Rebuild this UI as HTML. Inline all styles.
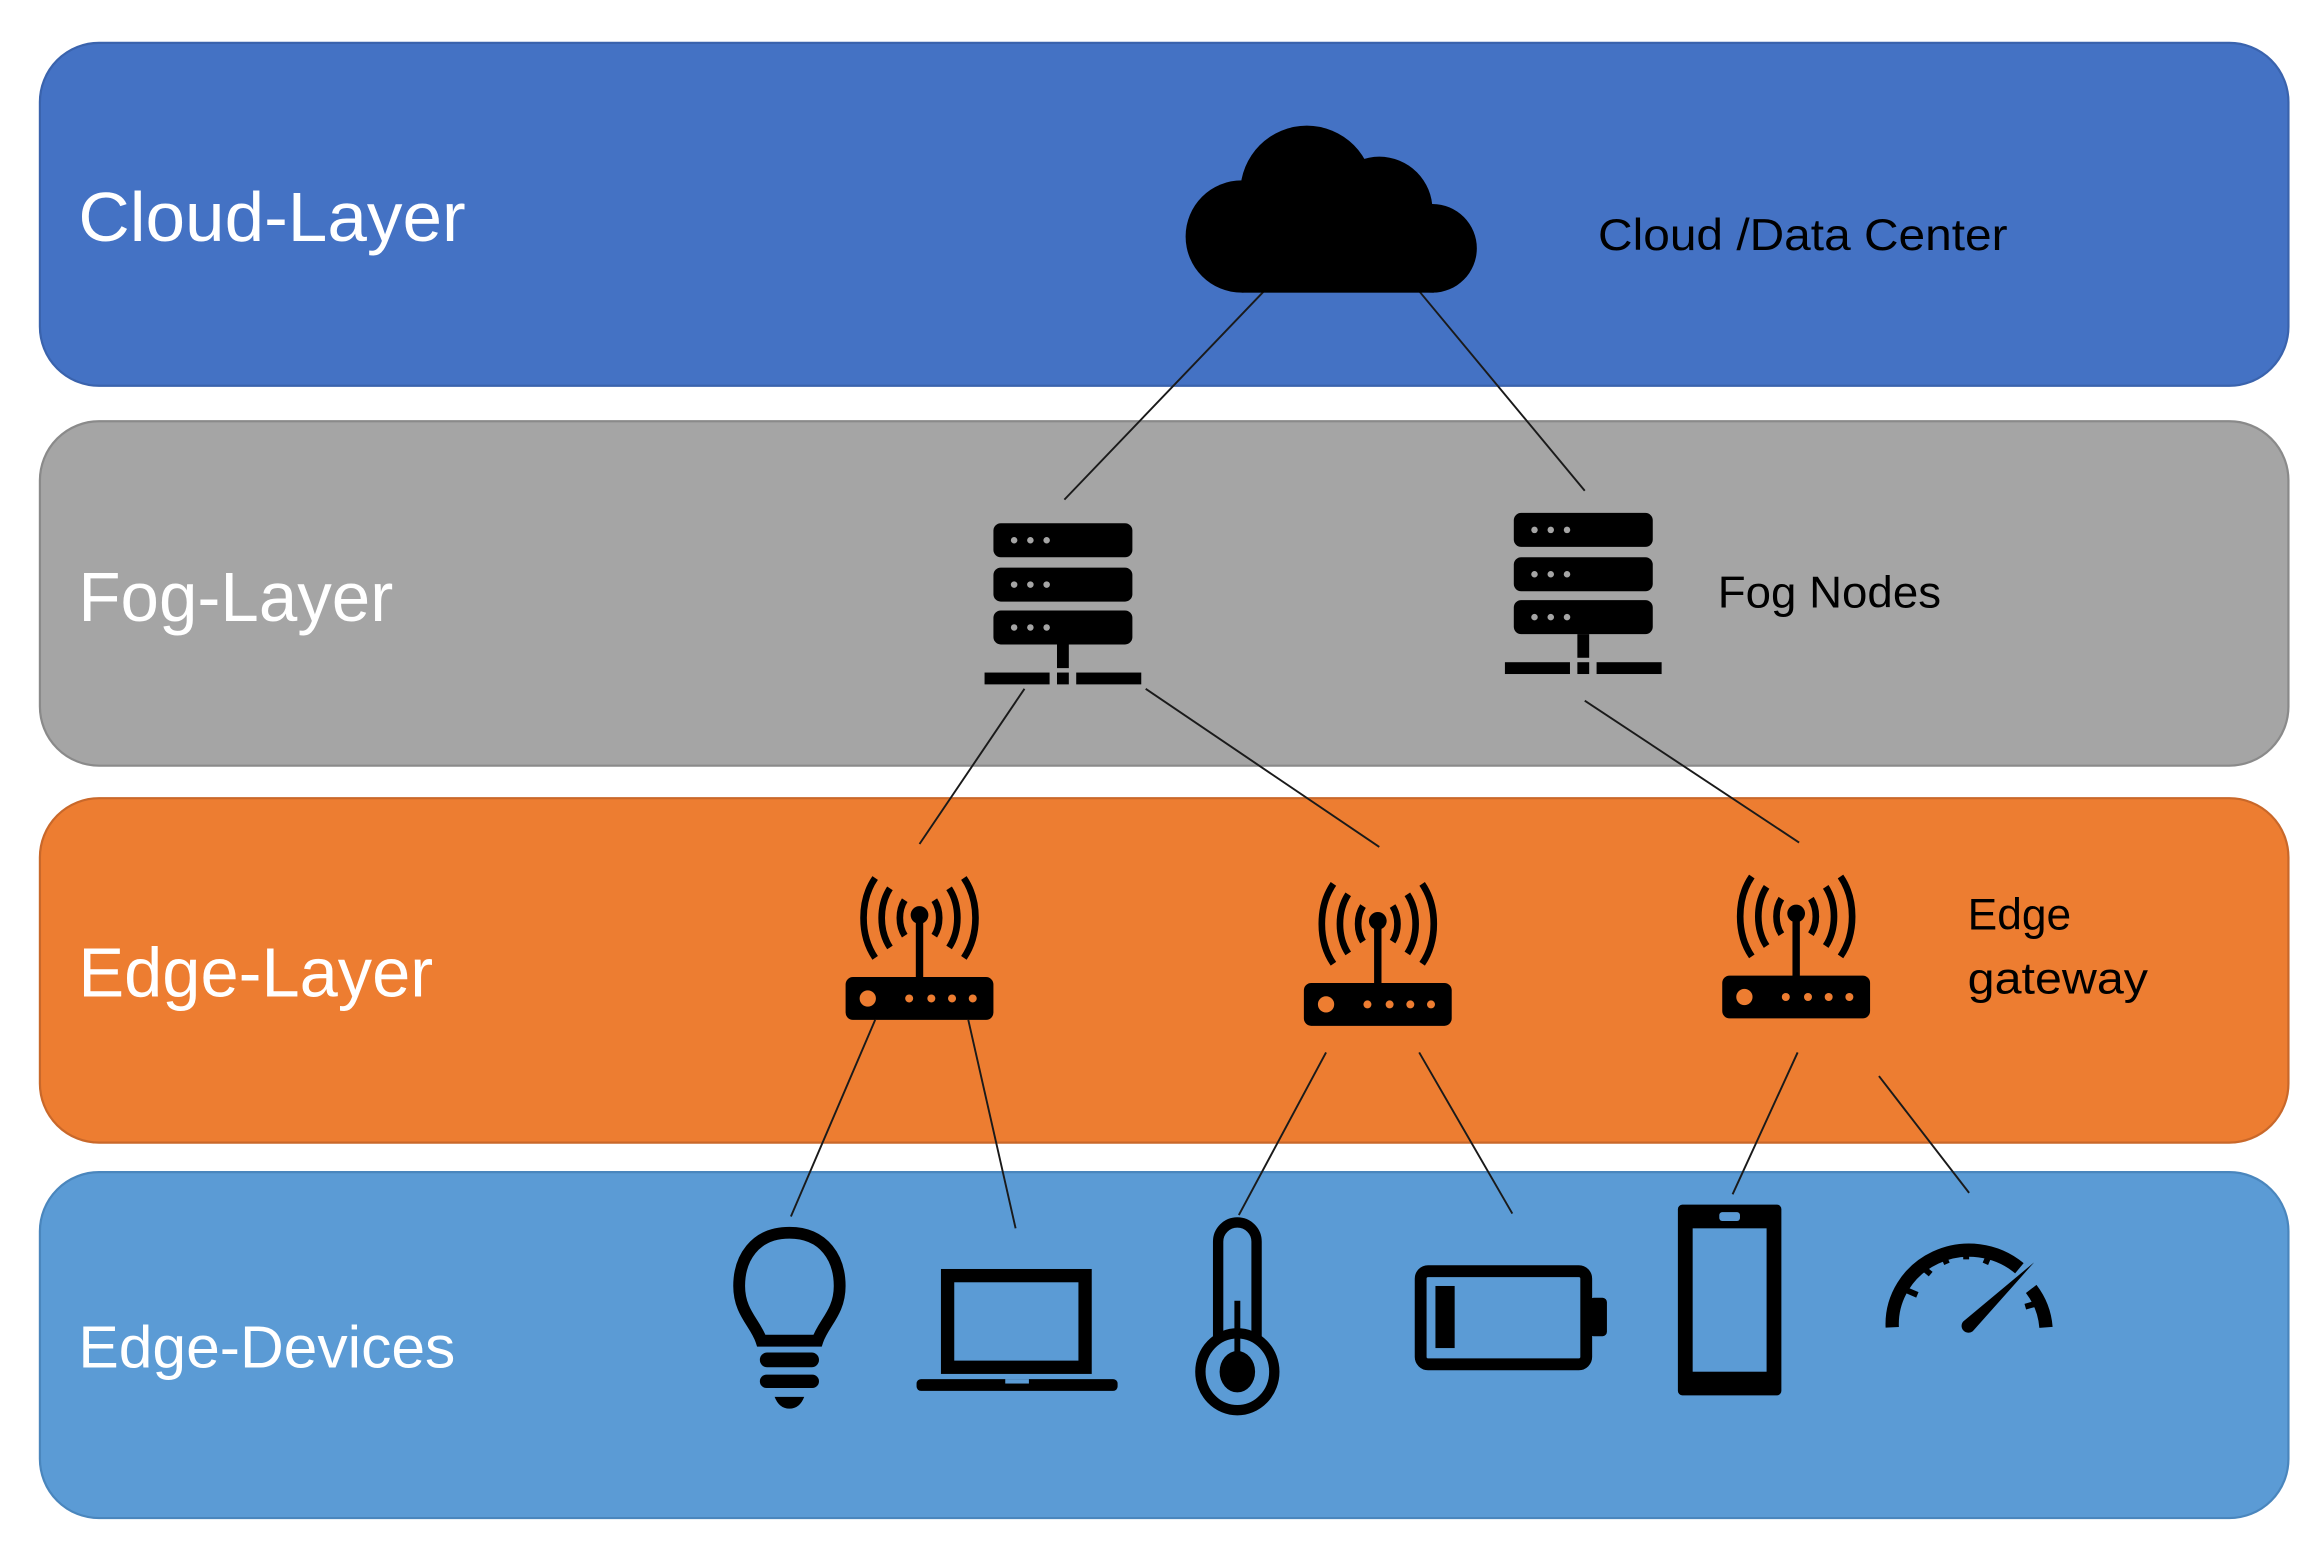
<!DOCTYPE html>
<html><head><meta charset="utf-8"><style>
html,body{margin:0;padding:0;background:#fff;}
svg{display:block;}
text{font-family:"Liberation Sans",sans-serif;}
</style></head><body>
<svg width="2318" height="1555" viewBox="0 0 1568 1052" preserveAspectRatio="none" xmlns="http://www.w3.org/2000/svg">
<rect x="0" y="0" width="1568" height="1052" fill="#fff"/>
<!-- bands -->
<rect x="27" y="29" width="1521" height="232" rx="40" fill="#4472C4" stroke="#3a63ad" stroke-width="1.5"/>
<rect x="27" y="285" width="1521" height="233" rx="40" fill="#A5A5A5" stroke="#8a8a8a" stroke-width="1.5"/>
<rect x="27" y="540" width="1521" height="233" rx="40" fill="#ED7D31" stroke="#c9682a" stroke-width="1.5"/>
<rect x="27" y="793" width="1521" height="234" rx="40" fill="#5B9BD5" stroke="#4a86bd" stroke-width="1.5"/>
<!-- labels -->
<text x="53" y="163" font-size="47" fill="#fff" textLength="262" lengthAdjust="spacingAndGlyphs">Cloud-Layer</text>
<text x="53" y="420" font-size="47" fill="#fff" textLength="213" lengthAdjust="spacingAndGlyphs">Fog-Layer</text>
<text x="53" y="674" font-size="47" fill="#fff" textLength="240" lengthAdjust="spacingAndGlyphs">Edge-Layer</text>
<text x="53" y="925" font-size="40" fill="#fff" textLength="255" lengthAdjust="spacingAndGlyphs">Edge-Devices</text>
<text x="1081" y="169" font-size="30" fill="#000" textLength="277" lengthAdjust="spacingAndGlyphs">Cloud /Data Center</text>
<text x="1162" y="411" font-size="30" fill="#000" textLength="151" lengthAdjust="spacingAndGlyphs">Fog Nodes</text>
<text x="1331" y="629" font-size="30" fill="#000" textLength="70" lengthAdjust="spacingAndGlyphs">Edge</text>
<text x="1331" y="672" font-size="30" fill="#000" textLength="122" lengthAdjust="spacingAndGlyphs">gateway</text>
<!-- lines -->
<g stroke="#1a1a1a" stroke-width="1.3" fill="none">
<line x1="855" y1="197" x2="720" y2="338"/>
<line x1="960" y1="197" x2="1072" y2="332"/>
<line x1="693" y1="466" x2="622" y2="571"/>
<line x1="775" y1="466" x2="933" y2="573"/>
<line x1="1072" y1="474" x2="1217" y2="570"/>
<line x1="592" y1="690" x2="535" y2="823"/>
<line x1="655" y1="690" x2="687" y2="831"/>
<line x1="897" y1="712" x2="838" y2="822"/>
<line x1="960" y1="712" x2="1023" y2="821"/>
<line x1="1216" y1="712" x2="1172" y2="808"/>
<line x1="1271" y1="728" x2="1332" y2="807"/>
</g>
<!-- cloud -->
<g fill="#000">
<circle cx="884" cy="130" r="45"/>
<circle cx="933" cy="142" r="36"/>
<circle cx="840" cy="160" r="38"/>
<circle cx="969" cy="168" r="30"/>
<rect x="840" y="140" width="130" height="58"/>
</g>
<defs>
<g id="srv">
<rect x="0" y="0" width="94" height="23" rx="5" fill="#000"/>
<rect x="0" y="30" width="94" height="23" rx="5" fill="#000"/>
<rect x="0" y="59" width="94" height="23" rx="5" fill="#000"/>
<g fill="#A5A5A5">
<circle cx="14" cy="11.5" r="2.2"/><circle cx="25" cy="11.5" r="2.2"/><circle cx="36" cy="11.5" r="2.2"/>
<circle cx="14" cy="41.5" r="2.2"/><circle cx="25" cy="41.5" r="2.2"/><circle cx="36" cy="41.5" r="2.2"/>
<circle cx="14" cy="70.5" r="2.2"/><circle cx="25" cy="70.5" r="2.2"/><circle cx="36" cy="70.5" r="2.2"/>
</g>
<rect x="43" y="82" width="8" height="16" fill="#000"/>
<rect x="-6" y="101" width="44" height="8" fill="#000"/>
<rect x="43" y="101" width="8" height="8" fill="#000"/>
<rect x="56" y="101" width="44" height="8" fill="#000"/>
</g>
<g id="rtr">
<g fill="none" stroke="#000" stroke-width="4.5" stroke-linecap="butt">
<path d="M -10 -12 A 13 18 0 0 0 -10 12"/>
<path d="M 10 -12 A 13 18 0 0 1 10 12"/>
<path d="M -20 -20 A 22 30 0 0 0 -20 20"/>
<path d="M 20 -20 A 22 30 0 0 1 20 20"/>
<path d="M -30 -27 A 30 40 0 0 0 -30 27"/>
<path d="M 30 -27 A 30 40 0 0 1 30 27"/>
</g>
<circle cx="0" cy="-2" r="6" fill="#000"/>
<rect x="-2.5" y="0" width="5" height="42" fill="#000"/>
<rect x="-50" y="40" width="100" height="29" rx="5" fill="#000"/>
<circle cx="-35" cy="54.5" r="5.5" fill="#ED7D31"/>
<g fill="#ED7D31"><circle cx="-7" cy="54.5" r="2.7"/><circle cx="8" cy="54.5" r="2.7"/><circle cx="22" cy="54.5" r="2.7"/><circle cx="36" cy="54.5" r="2.7"/></g>
</g>
</defs>
<use href="#srv" x="672" y="354"/>
<use href="#srv" x="1024" y="347"/>
<use href="#rtr" x="622" y="621"/>
<use href="#rtr" x="932" y="625"/>
<use href="#rtr" x="1215" y="620"/>
<!-- bulb -->
<path d="M534 834 C 558 834 568 852 568 870 C 568 888 557 895 553 907 L 515 907 C 511 895 500 888 500 870 C 500 852 510 834 534 834 Z" fill="none" stroke="#000" stroke-width="8"/>
<rect x="514" y="915" width="40" height="10" rx="5" fill="#000"/>
<rect x="514" y="930" width="40" height="9" rx="4.5" fill="#000"/>
<path d="M524 945 L544 945 Q541 953 534 953 Q527 953 524 945 Z" fill="#000"/>
<!-- laptop -->
<rect x="641" y="863" width="93" height="62" fill="none" stroke="#000" stroke-width="9"/>
<rect x="620" y="933" width="136" height="8" rx="3" fill="#000"/>
<rect x="680" y="933" width="16" height="3" fill="#5B9BD5"/>
<!-- thermometer -->
<path d="M824 906 L824 840 A13 13 0 0 1 850 840 L850 906" fill="none" stroke="#000" stroke-width="7"/>
<ellipse cx="837" cy="928" rx="25" ry="26" fill="none" stroke="#000" stroke-width="7"/>
<ellipse cx="837" cy="928" rx="12" ry="14" fill="#000"/>
<rect x="835" y="880" width="4" height="40" fill="#000"/>
<!-- battery -->
<rect x="961" y="860" width="112" height="63" rx="5" fill="none" stroke="#000" stroke-width="8"/>
<rect x="1075" y="878" width="12" height="26" rx="3" fill="#000"/>
<rect x="971" y="870" width="13" height="42" fill="#000"/>
<!-- phone -->
<rect x="1135" y="815" width="70" height="129" rx="3" fill="#000"/>
<rect x="1145" y="831" width="50" height="97" fill="#5B9BD5"/>
<rect x="1163" y="820" width="14" height="6" rx="2" fill="#5B9BD5"/>
<!-- gauge -->
<path d="M1280 898 A52 50 0 0 1 1366 858" fill="none" stroke="#000" stroke-width="9"/>
<path d="M1374 872 A52 50 0 0 1 1384 898" fill="none" stroke="#000" stroke-width="9"/>
<g stroke="#000" stroke-width="4">
<line x1="1290" y1="873" x2="1297" y2="876"/>
<line x1="1300" y1="857" x2="1306" y2="862"/>
<line x1="1314" y1="848" x2="1317" y2="855"/>
<line x1="1330" y1="845" x2="1330" y2="852"/>
<line x1="1346" y1="848" x2="1343" y2="855"/>
<line x1="1377" y1="882" x2="1370" y2="884"/>
</g>
<path d="M1376 854 L1335 900 A4 4 0 0 1 1328 894 Z" fill="#000"/>
</svg>
</body></html>
